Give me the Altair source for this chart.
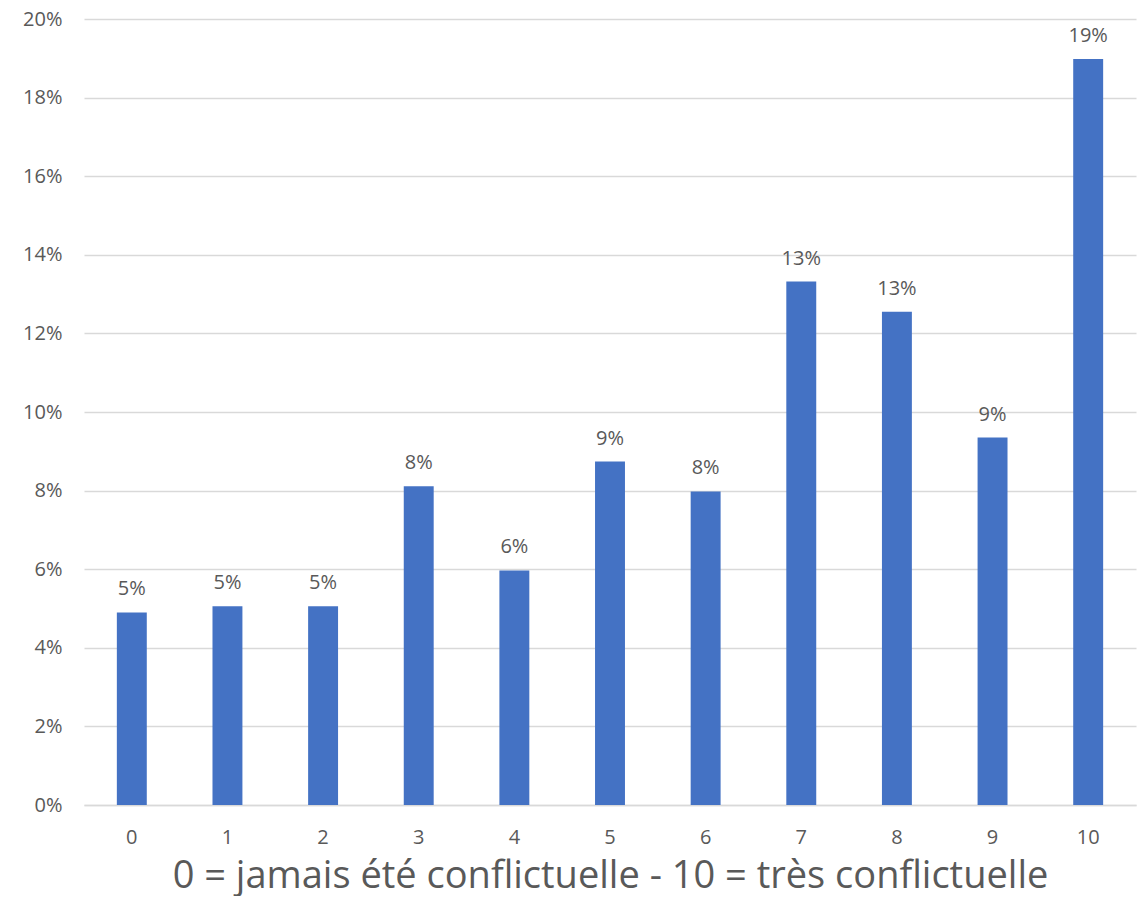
import altair as alt
import pandas as pd

categories = ["0", "1", "2", "3", "4", "5", "6", "7", "8", "9", "10"]
values = [0.0490, 0.0506, 0.0506, 0.0811, 0.0597, 0.0874, 0.0798, 0.1332, 0.1255, 0.0935, 0.1898]
x_title = "0 = jamais été conflictuelle - 10 = très conflictuelle"

df = pd.DataFrame({"cat": categories, "val": values})

FONT = "Open Sans"
TXT = "#595959"
GRID = "#D9D9D9"

x = alt.X(
    "cat:N",
    sort=categories,
    scale=alt.Scale(paddingInner=0.687, paddingOuter=0.3435),
    axis=alt.Axis(
        title=x_title,
        labelAngle=0,
        labelFont=FONT,
        labelFontSize=20,
        labelColor=TXT,
        labelPadding=22,
        ticks=False,
        tickSize=0,
        domain=True,
        domainColor=GRID,
        domainWidth=1.5,
        grid=False,
        titleFont=FONT,
        titleFontSize=38,
        titleFontWeight="normal",
        titleColor=TXT,
        titlePadding=10,
    ),
)
y = alt.Y(
    "val:Q",
    scale=alt.Scale(domain=[0, 0.2], nice=False),
    axis=alt.Axis(
        title=None,
        format=".0%",
        values=[0, 0.02, 0.04, 0.06, 0.08, 0.10, 0.12, 0.14, 0.16, 0.18, 0.20],
        labelFont=FONT,
        labelFontSize=20,
        labelColor=TXT,
        labelPadding=22,
        ticks=False,
        tickSize=0,
        domain=False,
        grid=True,
        gridColor=GRID,
        gridWidth=1.5,
    ),
)

bars = alt.Chart(df).mark_bar(color="#4472C4").encode(x=x, y=y)
labels = alt.Chart(df).mark_text(
    font=FONT, fontSize=20, color=TXT, baseline="alphabetic", dy=-17
).encode(x=alt.X("cat:N", sort=categories), y="val:Q", text=alt.Text("val:Q", format=".0%"))

chart = (
    alt.layer(bars, labels)
    .properties(
        width=1052,
        height=786,
        background="white",
        autosize=alt.AutoSizeParams(type="none"),
        padding={"left": 76, "top": 11, "right": 1, "bottom": 91},
    )
    .configure_view(strokeWidth=0, stroke="transparent")
)

chart.save("out.html", embed_options={"renderer": "svg", "actions": False})
